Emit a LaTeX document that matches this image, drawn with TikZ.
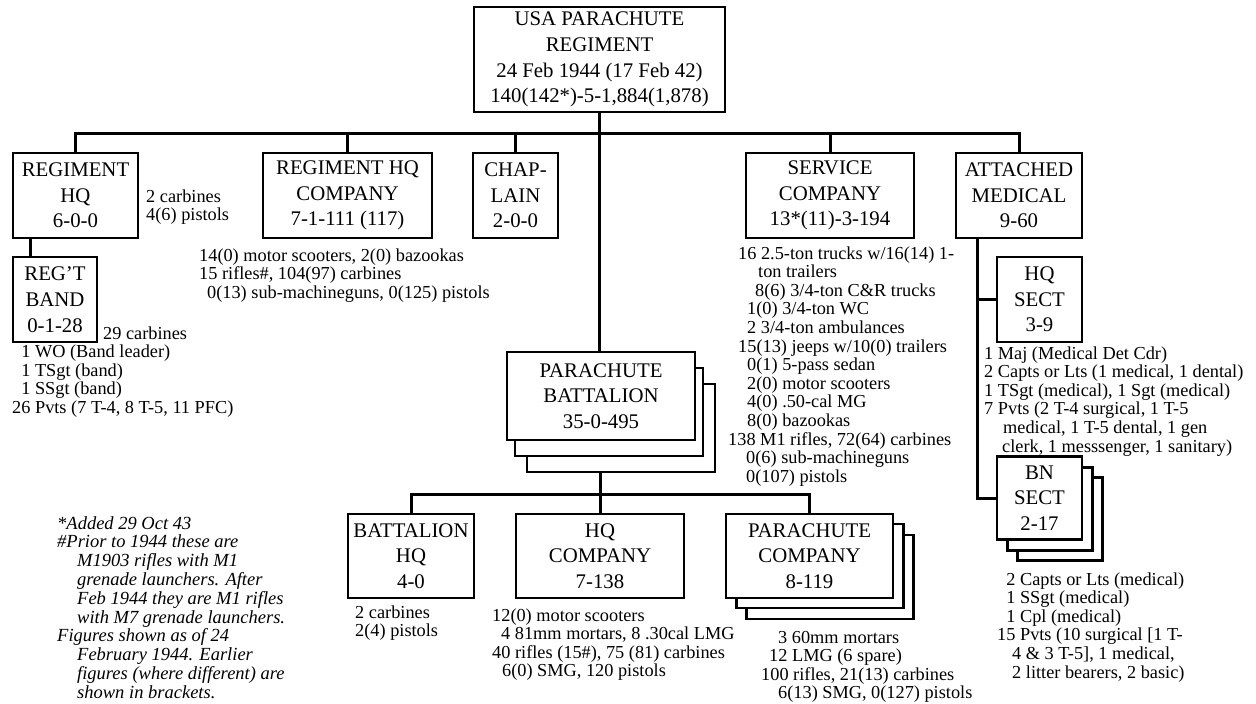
\documentclass[tikz,border=0pt]{standalone}
\usepackage{fontspec}
\setmainfont{Liberation Serif}
\usetikzlibrary{positioning,calc}

\newcommand\unitfont{\fontsize{20.8}{25.7}\selectfont}
\newcommand\notefont{\fontsize{18.3}{18.6}\selectfont}
\newcommand\footfont{\fontsize{18.5}{18.8}\selectfont\itshape}

\begin{document}
\begin{tikzpicture}[
    x=1pt, y=-1pt,
    unit/.style={draw, line width=2.6pt, fill=white, align=center, inner sep=0pt, font=\unitfont},
    boxsize/.style 2 args={minimum width=#1pt, minimum height=#2pt},
    note/.style={align=left, anchor=base west, inner sep=0pt, font=\notefont},
    foot/.style={align=left, anchor=base west, inner sep=0pt, font=\footfont},
    link/.style={line width=3pt},
]

\useasboundingbox (0,0) rectangle (1256,704);

\coordinate (bus) at (0,133);
\coordinate (lowbus) at (0,494);
\coordinate (medline) at (977,0);

\node[unit, boxsize={251}{105}] (reg) at (599.5,59.5) {USA PARACHUTE\\REGIMENT\\24 Feb 1944 (17 Feb 42)\\140(142*)-5-1,884(1,878)};
\node[unit, boxsize={125}{85}] (rhq) at (75.5,195.5) {REGIMENT\\HQ\\6-0-0};
\node[unit, boxsize={169}{85}] (rhqco) at (347.5,195.5) {REGIMENT HQ\\COMPANY\\7-1-111 (117)};
\node[unit, boxsize={85}{85}] (chap) at (515.5,195.5) {CHAP-\\LAIN\\2-0-0};
\node[unit, boxsize={168}{85}] (svc) at (830,195.5) {SERVICE\\COMPANY\\13*(11)-3-194};
\node[unit, boxsize={126}{85}] (med) at (1019,195.5) {ATTACHED\\MEDICAL\\9-60};
\node[unit, boxsize={84}{85}] (band) at (55,299.5) {REG'T\\BAND\\0-1-28};
\node[unit, boxsize={85}{85}] (hqsect) at (1039.5,299.5) {HQ\\SECT\\3-9};

\node[unit, boxsize={188}{88}] (bn3) at (621,428) {};
\node[unit, boxsize={188}{88}] (bn2) at (609,412) {};
\node[unit, boxsize={188}{88}] (bn) at (601,396) {PARACHUTE\\BATTALION\\35-0-495};

\node[unit, boxsize={85}{83}] (bnsect3) at (1060,519) {};
\node[unit, boxsize={85}{83}] (bnsect2) at (1050,509) {};
\node[unit, boxsize={85}{83}] (bnsect) at (1039.5,498) {BN\\SECT\\2-17};

\node[unit, boxsize={126}{84}] (bnhq) at (411,556) {BATTALION\\HQ\\4-0};
\node[unit, boxsize={168}{84}] (hqco) at (600,556) {HQ\\COMPANY\\7-138};
\node[unit, boxsize={167}{84}] (paraco3) at (830,577) {};
\node[unit, boxsize={167}{84}] (paraco2) at (820,566) {};
\node[unit, boxsize={167}{84}] (paraco) at (809.5,556) {PARACHUTE\\COMPANY\\8-119};

\draw[link] (reg.south) -- (reg.south |- bn.north);
\draw[link] (rhq.north) -- (rhq.north |- bus) -- (med.north |- bus) -- (med.north);
\foreach \n in {rhqco, chap, svc}
    \draw[link] (\n.north) -- (\n.north |- bus);
\draw[link] ([xshift=19pt]rhq.south west) -- ([xshift=19pt]rhq.south west |- band.north);
\draw[link] (hqco.north |- bn3.south) -- (hqco.north);
\draw[link] (bnhq.north) -- (bnhq.north |- lowbus) -- (paraco.north |- lowbus) -- (paraco.north);
\draw[link] (med.south -| medline) |- (bnsect.west);
\draw[link] (hqsect.west) -- (hqsect.west -| medline);

\node[note] (rhqnote) at (146,220.6) {2 carbines\\4(6) pistols};
\node[note] (rhqconote) at (199,298.2) {14(0) motor scooters, 2(0) bazookas\\15 rifles\#, 104(97) carbines\\\hspace*{8pt}0(13) sub-machineguns, 0(125) pistols};
\node[note] (bandnote) at (12,413.4) {\hspace*{91pt}29 carbines\\\phantom{2}1 WO (Band leader)\\\phantom{2}1 TSgt (band)\\\phantom{2}1 SSgt (band)\\26 Pvts (7 T-4, 8 T-5, 11 PFC)};
\node[note] (svcnote) at (728,482.2) {\hspace*{10pt}16 2.5-ton trucks w/16(14) 1-\\\hspace*{30pt}ton trailers\\\hspace*{27pt}8(6) 3/4-ton C\&R trucks\\\hspace*{19pt}1(0) 3/4-ton WC\\\hspace*{19pt}2 3/4-ton ambulances\\\hspace*{10pt}15(13) jeeps w/10(0) trailers\\\hspace*{19pt}0(1) 5-pass sedan\\\hspace*{19pt}2(0) motor scooters\\\hspace*{19pt}4(0) .50-cal MG\\\hspace*{19pt}8(0) bazookas\\138 M1 rifles, 72(64) carbines\\\hspace*{18pt}0(6) sub-machineguns\\\hspace*{18pt}0(107) pistols};
\node[note] (hqsectnote) at (984,452) {1 Maj (Medical Det Cdr)\\2 Capts or Lts (1 medical, 1 dental)\\1 TSgt (medical), 1 Sgt (medical)\\7 Pvts (2 T-4 surgical, 1 T-5\\\hspace*{19pt}medical, 1 T-5 dental, 1 gen\\\hspace*{18pt}clerk, 1 messsenger, 1 sanitary)};
\node[note] (bnsectnote) at (997,678) {\phantom{1}2 Capts or Lts (medical)\\\phantom{1}1 SSgt (medical)\\\phantom{1}1 Cpl (medical)\\15 Pvts (10 surgical [1 T-\\\hspace*{15pt}4 \& 3 T-5], 1 medical,\\\hspace*{15pt}2 litter bearers, 2 basic)};
\node[note] (bnhqnote) at (355,636.6) {2 carbines\\2(4) pistols};
\node[note] (hqconote) at (492,676.8) {12(0) motor scooters\\\hspace*{9pt}4 81mm mortars, 8 .30cal LMG\\40 rifles (15\#), 75 (81) carbines\\\hspace*{10pt}6(0) SMG, 120 pistols};
\node[note] (paraconote) at (761,698.8) {\hspace*{17pt}3 60mm mortars\\\hspace*{8pt}12 LMG (6 spare)\\100 rifles, 21(13) carbines\\\hspace*{17pt}6(13) SMG, 0(127) pistols};

\node[foot] (footnote) at (57,698.2) {*Added 29 Oct 43\\\#Prior to 1944 these are\\\hspace*{20pt}M1903 rifles with M1\\\hspace*{20pt}grenade launchers. After\\\hspace*{20pt}Feb 1944 they are M1 rifles\\\hspace*{20pt}with M7 grenade launchers.\\Figures shown as of 24\\\hspace*{20pt}February 1944. Earlier\\\hspace*{20pt}figures (where different) are\\\hspace*{20pt}shown in brackets.};

\end{tikzpicture}
\end{document}
